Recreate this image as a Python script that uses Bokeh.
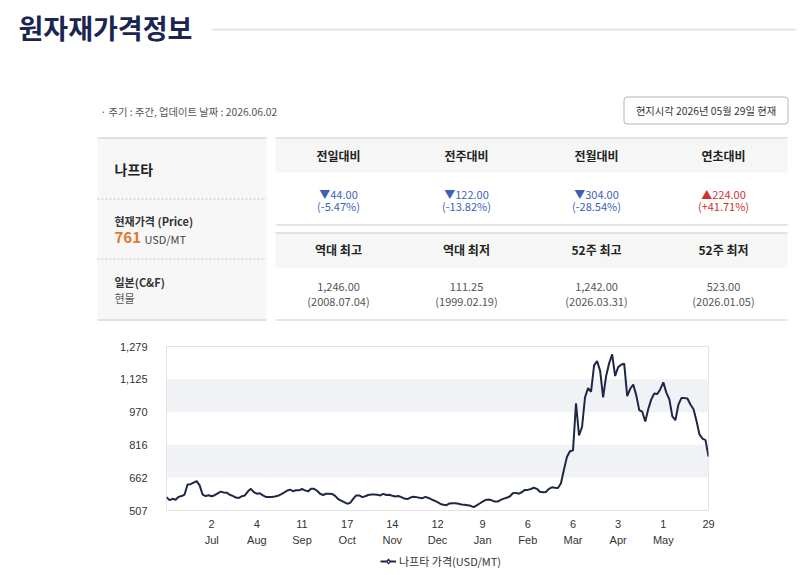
from bokeh.plotting import figure
from bokeh.layouts import column
from bokeh.models import (ColumnDataSource, Range1d, FixedTicker, BoxAnnotation,
                          Legend, LegendItem, LinearAxis)
from bokeh.embed import file_html
from bokeh.resources import INLINE
from bokeh.core.properties import value

KR = "Noto Sans CJK KR"
LAT = "Liberation Sans"

# ---------------- data ----------------
title_text = "원자재가격정보"
info_text = "· 주기 : 주간, 업데이트 날짜 : 2026.06.02"
stamp_text = "현지시각 2026년 05월 29일 현재"
commodity = "나프타"
price_label = "현재가격 (Price)"
price_value = "761"
price_unit = "USD/MT"
market = "일본(C&F)"
market_type = "현물"

change_headers = ["전일대비", "전주대비", "전월대비", "연초대비"]
change_amounts = ["▼44.00", "▼122.00", "▼304.00", "▲224.00"]
change_pcts = ["(-5.47%)", "(-13.82%)", "(-28.54%)", "(+41.71%)"]
change_colors = ["#3d5fb8", "#3d5fb8", "#3d5fb8", "#cc3333"]
record_headers = ["역대 최고", "역대 최저", "52주 최고", "52주 최저"]
record_values = ["1,246.00", "111.25", "1,242.00", "523.00"]
record_dates = ["(2008.07.04)", "(1999.02.19)", "(2026.03.31)", "(2026.01.05)"]

series_name = "나프타 가격(USD/MT)"
prices = [
    570, 556, 562, 558, 571, 575, 582, 629, 631, 638,
    645, 625, 582, 575, 579, 574, 579, 588, 596, 592,
    591, 581, 576, 568, 566, 574, 578, 596, 609, 594,
    586, 588, 578, 571, 570, 571, 573, 576, 583, 591,
    600, 605, 598, 602, 602, 608, 602, 597, 609, 609,
    600, 586, 580, 586, 586, 585, 576, 561, 553, 546,
    539, 543, 562, 578, 578, 570, 574, 580, 582, 582,
    581, 578, 585, 580, 581, 576, 573, 575, 570, 563,
    561, 568, 572, 570, 567, 565, 571, 566, 559, 553,
    546, 538, 534, 532, 540, 541, 541, 539, 535, 534,
    532, 529, 523, 531, 540, 549, 557, 559, 555, 549,
    549, 557, 563, 567, 573, 588, 590, 586, 593, 604,
    604, 608, 614, 609, 595, 593, 594, 609, 616, 614,
    613, 635, 700, 760, 786, 790, 1012, 860, 900, 1040,
    1083, 1066, 1190, 1210, 1165, 1040, 1140, 1200, 1242, 1140,
    1182, 1193, 1198, 1045, 1080, 1100, 1050, 980, 972, 926,
    985, 1030, 1058, 1055, 1078, 1110, 1062, 1030, 950, 932,
    1005, 1036, 1036, 1034, 1006, 985, 930, 865, 845, 838,
    761,
]
tick_index = [15, 30, 45, 60, 75, 90, 105, 120, 135, 150, 165, 180]
tick_days = ["2", "4", "11", "17", "14", "12", "9", "6", "6", "3", "1", "29"]
tick_months = ["Jul", "Aug", "Sep", "Oct", "Nov", "Dec", "Jan", "Feb", "Mar", "Apr", "May", ""]
y_ticks = [507, 662, 816, 970, 1125, 1279]
y_tick_labels = ["507", "662", "816", "970", "1,125", "1,279"]
bands = [(662, 816), (970, 1125)]

LINE_COLOR = "#1f2747"

# ---------------- header / table figure (pixel coordinates) ----------------
top = figure(width=800, height=330, x_range=Range1d(0, 800), y_range=Range1d(330, 0),
             toolbar_location=None, output_backend="svg", min_border=0,
             x_axis_type=None, y_axis_type=None, outline_line_color=None)
top.frame_align = False

top.text(x=[18], y=[27], text=[title_text], text_font=value(KR), text_font_style="bold",
         text_font_size="27px", text_color="#1b2552", text_baseline="middle")
top.segment(x0=[212], y0=[29], x1=[795], y1=[29], line_color="#e6e6e6", line_width=2)

top.text(x=[100], y=[111], text=[info_text], text_font=value(KR), text_font_size="10.3px",
         text_color="#555555", text_baseline="middle")
top.quad(left=[623.5], right=[787.5], top=[96.5], bottom=[123.5], fill_color="white",
         line_color="#b5b5b5", line_width=1, border_radius=3)
top.text(x=[705.5], y=[110], text=[stamp_text], text_font=value(KR), text_font_size="10.3px",
         text_color="#333333", text_baseline="middle", text_align="center")

# left panel
top.quad(left=[97], right=[266], top=[137], bottom=[320], fill_color="#f7f7f7", line_color=None)
top.segment(x0=[97, 97], y0=[137.5, 319.5], x1=[266, 266], y1=[137.5, 319.5],
            line_color="#c8c8c8", line_width=1)
top.segment(x0=[97, 97], y0=[198.5, 258.5], x1=[266, 266], y1=[198.5, 258.5],
            line_color="#c8c8c8", line_width=1, line_dash="2 2")
top.text(x=[114], y=[168], text=[commodity], text_font=value(KR), text_font_style="bold",
         text_font_size="14px", text_color="#222222", text_baseline="middle")
top.text(x=[114], y=[220], text=[price_label], text_font=value(KR), text_font_style="bold",
         text_font_size="11px", text_color="#333333", text_baseline="middle")
top.text(x=[114], y=[237], text=[price_value], text_font=value(KR), text_font_style="bold",
         text_font_size="15px", text_color="#e5762a", text_baseline="middle")
top.text(x=[144], y=[238], text=[price_unit], text_font=value(KR),
         text_font_size="11px", text_color="#444444", text_baseline="middle")
top.text(x=[114], y=[281], text=[market], text_font=value(KR), text_font_style="bold",
         text_font_size="11px", text_color="#333333", text_baseline="middle")
top.text(x=[114], y=[297], text=[market_type], text_font=value(KR),
         text_font_size="11px", text_color="#555555", text_baseline="middle")

# right table
col_x = [338, 466, 596, 723]
top.quad(left=[275, 275], right=[787, 787], top=[137, 232], bottom=[172, 267],
         fill_color="#f6f6f6", line_color=None)
top.segment(x0=[275] * 4, y0=[137.5, 224.5, 232.5, 319.5], x1=[787] * 4,
            y1=[137.5, 224.5, 232.5, 319.5], line_color="#cdcdcd", line_width=1)
top.text(x=col_x, y=[155] * 4, text=change_headers, text_font=value(KR), text_font_style="bold",
         text_font_size="12px", text_color="#222222", text_baseline="middle", text_align="center")
src_chg = ColumnDataSource(dict(x=col_x, a=change_amounts, p=change_pcts, c=change_colors))
top.text(x="x", y=193, text="a", source=src_chg, text_font=value(KR), text_font_size="11px",
         text_color="c", text_baseline="middle", text_align="center")
top.text(x="x", y=205, text="p", source=src_chg, text_font=value(KR), text_font_size="11px",
         text_color="c", text_baseline="middle", text_align="center")
top.text(x=col_x, y=[249] * 4, text=record_headers, text_font=value(KR), text_font_style="bold",
         text_font_size="12px", text_color="#222222", text_baseline="middle", text_align="center")
top.text(x=col_x, y=[286] * 4, text=record_values, text_font=value(KR), text_font_size="11px",
         text_color="#555555", text_baseline="middle", text_align="center")
top.text(x=col_x, y=[300] * 4, text=record_dates, text_font=value(KR), text_font_size="11px",
         text_color="#555555", text_baseline="middle", text_align="center")

# ---------------- chart figure ----------------
chart = figure(frame_width=542, frame_height=164, x_range=Range1d(0, len(prices) - 1),
               y_range=Range1d(y_ticks[0], y_ticks[-1]),
               toolbar_location=None, output_backend="svg",
               min_border_left=166, min_border_right=92, min_border_top=16,
               min_border_bottom=40, outline_line_color="#e3e3e3")
chart.frame_align = False
chart.grid.visible = False

for lo, hi in bands:
    chart.add_layout(BoxAnnotation(bottom=lo, top=hi, fill_color="#f1f2f6", fill_alpha=1,
                                   line_color=None, level="underlay"))

src = ColumnDataSource(dict(i=list(range(len(prices))), price=prices))
chart.line(x="i", y="price", source=src, line_color=LINE_COLOR, line_width=2)

# day-of-month labels (first x axis) and month labels (second x axis)
xa = chart.xaxis[0]
xa.ticker = FixedTicker(ticks=tick_index)
xa.major_label_overrides = {t: d for t, d in zip(tick_index, tick_days)}
xm = LinearAxis(ticker=FixedTicker(ticks=tick_index),
                major_label_overrides={t: m for t, m in zip(tick_index, tick_months)})
chart.add_layout(xm, "below")
ya = chart.yaxis[0]
ya.ticker = FixedTicker(ticks=y_ticks)
ya.major_label_overrides = {t: s for t, s in zip(y_ticks, y_tick_labels)}
for ax, standoff in ((xa, 9), (xm, 3), (ya, 19)):
    ax.axis_line_color = None
    ax.major_tick_line_color = None
    ax.minor_tick_line_color = None
    ax.major_tick_out = 0
    ax.major_tick_in = 0
    ax.minor_tick_out = 0
    ax.major_label_standoff = standoff
    ax.major_label_text_font = LAT
    ax.major_label_text_font_size = "11px"
    ax.major_label_text_color = "#333333"

# ---------------- legend strip under the chart ----------------
leg = figure(width=800, height=20, x_range=Range1d(0, 800), y_range=Range1d(0, 20),
             toolbar_location=None, output_backend="svg", min_border=0,
             x_axis_type=None, y_axis_type=None, outline_line_color=None)
leg.frame_align = False
key_src = ColumnDataSource(dict(x=[-100, -90], y=[-100, -100]))
key_line = leg.line(x="x", y="y", source=key_src, line_color=LINE_COLOR, line_width=2)
key_marker = leg.scatter(x="x", y="y", source=key_src, marker="diamond", size=9,
                         fill_color="white", line_color=LINE_COLOR, line_width=1.2)
legend = Legend(items=[LegendItem(label=series_name, renderers=[key_line, key_marker])],
                orientation="horizontal", location=(380, 1), border_line_color=None,
                background_fill_alpha=0, label_text_font=KR, label_text_font_size="11px",
                label_text_color="#333333", glyph_width=16, glyph_height=12,
                label_height=12, padding=0, margin=0, label_standoff=3)
leg.add_layout(legend)

layout = column(top, chart, leg, spacing=0)
open("out.html", "w").write(file_html(layout, INLINE))
